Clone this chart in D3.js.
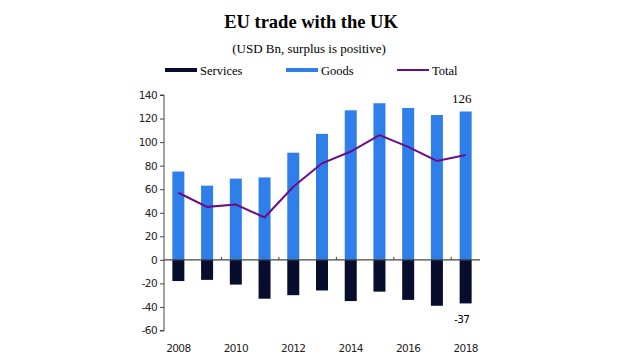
<!DOCTYPE html>
<html><head><meta charset="utf-8">
<script src="https://cdn.jsdelivr.net/npm/d3@7"></script>
<style>body{margin:0;background:#fff}svg{display:block}</style>
</head><body>
<svg id="c" width="620" height="355"></svg>
<script>
const years = [2008,2009,2010,2011,2012,2013,2014,2015,2016,2017,2018];
const goods = [75,63,69,70,91,107,127,133,129,123,126];
const services = [-18,-17,-21,-33,-30,-26,-35,-27,-34,-39,-37];
const total = [57,45,47,36,62,82,92,106,96,84,89];
const yTicks = [140,120,100,80,60,40,20,0,-20,-40,-60];
const xLabelYears = [2008,2010,2012,2014,2016,2018];

const C_GOODS = "#2f7fea", C_SERV = "#070d2c", C_TOTAL = "#6a0e86";
const svg = d3.select("#c");
const x = d3.scaleBand().domain(years).range([164,480]).paddingInner(0).paddingOuter(0);
const y = d3.scaleLinear().domain([-60,140]).range([330.5,95]);
const bw = 12;

svg.append("text").attr("x",311).attr("y",27.5).attr("text-anchor","middle")
  .attr("font-family","Liberation Serif").attr("font-weight","bold").attr("font-size",18.5).text("EU trade with the UK");
svg.append("text").attr("x",309).attr("y",53).attr("text-anchor","middle")
  .attr("font-family","Liberation Serif").attr("font-size",13).text("(USD Bn, surplus is positive)");

// legend
const lg = [{n:"Services",c:C_SERV,x0:165,t:"bar"},{n:"Goods",c:C_GOODS,x0:286,t:"bar"},{n:"Total",c:C_TOTAL,x0:397,t:"line"}];
lg.forEach(d=>{
  svg.append("line").attr("x1",d.x0).attr("x2",d.x0+32).attr("y1",70).attr("y2",70)
    .attr("stroke",d.c).attr("stroke-width",d.t==="bar"?4:2);
  svg.append("text").attr("x",d.x0+35).attr("y",74.5).attr("font-family","Liberation Serif")
    .attr("font-size",12.5).text(d.n);
});

// bars
svg.selectAll(".g").data(years).enter().append("rect")
  .attr("x",d=>x(d)+x.bandwidth()/2-bw/2).attr("width",bw)
  .attr("y",(d,i)=>y(goods[i])).attr("height",(d,i)=>y(0)-y(goods[i])).attr("fill",C_GOODS);
svg.selectAll(".s").data(years).enter().append("rect")
  .attr("x",d=>x(d)+x.bandwidth()/2-bw/2).attr("width",bw)
  .attr("y",y(0)).attr("height",(d,i)=>y(services[i])-y(0)).attr("fill",C_SERV);

// y axis
const ya = svg.append("g").attr("transform","translate(164,0)")
  .call(d3.axisLeft(y).tickValues(yTicks).tickSize(4).tickPadding(3).tickFormat(d=>String(d)));
ya.select(".domain").attr("stroke","#444").attr("d","M-4,"+y(140)+"H0V"+y(-60)+"H-4");
ya.selectAll(".tick line").attr("stroke","#444");
ya.selectAll("text").attr("font-family","DejaVu Sans").attr("font-size",10.5).attr("fill","#222").attr("letter-spacing","-0.6");

// x axis at zero
svg.append("line").attr("x1",164).attr("x2",480).attr("y1",y(0)).attr("y2",y(0)).attr("stroke","#444").attr("stroke-width",1.2);
const bounds = [2010,2012,2014,2016,2018];
svg.selectAll(".xt").data(bounds).enter().append("line")
  .attr("x1",d=>x(d)).attr("x2",d=>x(d)).attr("y1",y(0)-3).attr("y2",y(0)).attr("stroke","#444");
svg.selectAll(".xl").data(xLabelYears).enter().append("text")
  .attr("x",d=>x(d)+x.bandwidth()/2).attr("y",352).attr("text-anchor","middle")
  .attr("font-family","DejaVu Sans").attr("font-size",10.5).attr("letter-spacing","-0.6").attr("fill","#222").text(d=>d);

// total line
svg.append("path").datum(total).attr("fill","none").attr("stroke",C_TOTAL).attr("stroke-width",2)
  .attr("d",d3.line().x((d,i)=>x(years[i])+x.bandwidth()/2).y(d=>y(d)));

// labels
const last = years.length-1;
svg.append("text").attr("x",x(years[last])+x.bandwidth()/2-4).attr("y",y(goods[last])-8).attr("text-anchor","middle")
  .attr("font-family","Liberation Serif").attr("font-size",13).text(goods[last]);
svg.append("text").attr("x",x(years[last])+x.bandwidth()/2-4).attr("y",y(services[last])+20).attr("text-anchor","middle")
  .attr("font-family","DejaVu Sans").attr("font-size",10.5).attr("letter-spacing","-0.6").text(String(services[last]));
</script>
</body></html>
